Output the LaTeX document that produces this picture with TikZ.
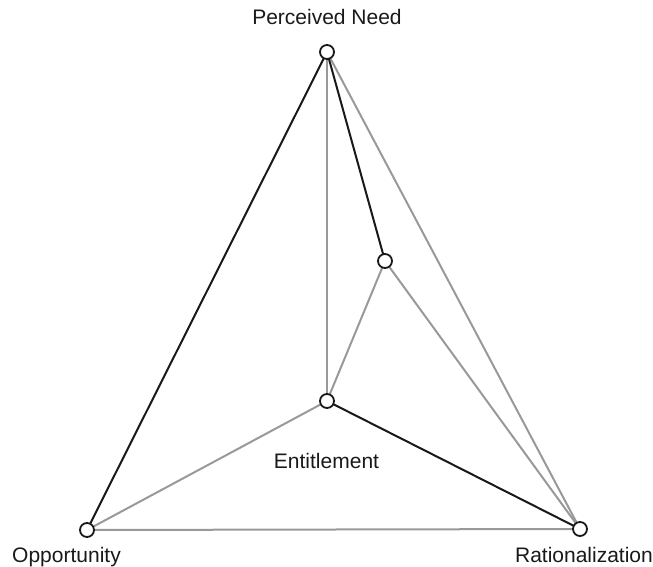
\documentclass[tikz,border=0pt]{standalone}
\usepackage{fontspec}
\setmainfont{Liberation Sans}
\begin{document}
\begin{tikzpicture}[x=1pt,y=-1pt,
  vtx/.style={circle,draw=black!90,line width=1.8pt,fill=white,minimum size=14pt,inner sep=0pt},
  blk/.style={draw=black!90,line width=2pt},
  gry/.style={draw=black!40,line width=2pt},
  lbl/.style={font=\fontsize{21}{24}\selectfont,text=black!90,inner sep=0pt,anchor=base}]
\useasboundingbox (0,0) rectangle (653,567);
\coordinate (PN) at (327,52);
\coordinate (IN) at (385,261);
\coordinate (EN) at (327,401);
\coordinate (OP) at (87,530);
\coordinate (RA) at (580,529);
\draw[gry] (PN) -- (EN);
\draw[gry] (PN) -- (RA);
\draw[gry] (IN) -- (EN);
\draw[gry] (IN) -- (RA);
\draw[gry] (EN) -- (OP);
\draw[gry] (OP) -- (RA);
\draw[blk] (PN) -- (OP);
\draw[blk] (PN) -- (IN);
\draw[blk] (EN) -- (RA);
\node[vtx] (nPN) at (PN) {};
\node[vtx] (nIN) at (IN) {};
\node[vtx] (nEN) at (EN) {};
\node[vtx] (nOP) at (OP) {};
\node[vtx] (nRA) at (RA) {};
\node[lbl] (tPN) at (327,25) {Perceived Need};
\node[lbl] (tEN) at (326.5,468) {Entitlement};
\node[lbl] (tOP) at (66.5,562) {Opportunity};
\node[lbl] (tRA) at (584,562) {Rationalization};
\end{tikzpicture}
\end{document}
